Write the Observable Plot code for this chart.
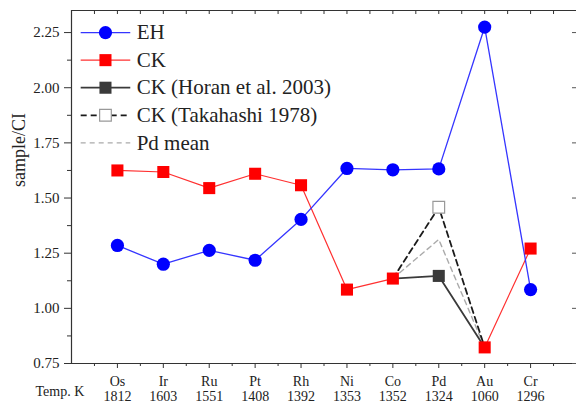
<!DOCTYPE html>
<html><head><meta charset="utf-8">
<script src="https://cdn.jsdelivr.net/npm/d3@7"></script>
<script src="https://cdn.jsdelivr.net/npm/@observablehq/plot@0.6"></script>
<style>
body{margin:0;background:#fff}
svg, svg text, svg g{font-family:"Liberation Serif","Times New Roman",serif !important}
</style>
</head><body><div id="chart"></div>
<script>
// ---- data ----
const elements = ["Os","Ir","Ru","Pt","Rh","Ni","Co","Pd","Au","Cr"];
const temps = [1812,1603,1551,1408,1392,1353,1352,1324,1060,1296];
const ehValues = [1.285,1.200,1.263,1.218,1.403,1.634,1.628,1.632,2.275,1.085];
const ckValues = [1.625,1.618,1.545,1.610,1.558,1.085,1.135,null,0.823,1.271];
const pdElements = ["Co","Pd","Au"];
const horanValues = [1.135,1.147,0.823];
const takahashiValues = [1.135,1.458,0.823];
const pdMeanValues = [1.135,1.312,0.823];
const yTicks = [0.75,1.00,1.25,1.50,1.75,2.00,2.25];
const legendLabels = ["EH","CK","CK (Horan et al. 2003)","CK (Takahashi 1978)","Pd mean"];

// ---- tables ----
const pos = e => elements.indexOf(e) + 1;
const ehData = elements.map((e,i)=>({x:pos(e), y:ehValues[i]}));
const ckData = elements.map((e,i)=>({x:pos(e), y:ckValues[i]}));
const horanData = pdElements.map((e,i)=>({x:pos(e), y:horanValues[i]}));
const takaData = pdElements.map((e,i)=>({x:pos(e), y:takahashiValues[i]}));
const meanData = pdElements.map((e,i)=>({x:pos(e), y:pdMeanValues[i]}));
const xTicks = elements.map(pos);
const xMinor = d3.range(0.5, 11, 1);
const topTicks = d3.range(0.5, 11, 0.5);
const yMinor = yTicks.slice(0,-1).map(v=>v+0.125);

const serif = "Liberation Serif";
const blue = "#0000ff", red = "#ff0000", dark = "#3a3a3a";
const legendRows = legendLabels.map((label,i)=>({label, y: 2.25 - i*0.125, i}));
const leg = {x1:0.2, x2:1.28, xm:0.74, xt:1.42};
const styles = [
  {stroke:"#3535ff", width:1.3, dash:null},
  {stroke:"#ff3030", width:1.2, dash:null},
  {stroke:dark, width:1.8, dash:null},
  {stroke:"#1a1a1a", width:1.8, dash:"6,4"},
  {stroke:"#aaaaaa", width:1.4, dash:"5,4"}
];

const yTop = 2.35, yBottom = 0.75;

const legendLine = (i) => Plot.link(legendRows.filter(d=>d.i===i), {
  x1: () => leg.x1, x2: () => leg.x2, y1: "y", y2: "y",
  stroke: styles[i].stroke, strokeWidth: styles[i].width,
  strokeDasharray: styles[i].dash || undefined});

const chart = Plot.plot({
  width: 576, height: 404,
  marginLeft: 71, marginRight: 0, marginTop: 10, marginBottom: 41,
  x: {domain: [0, 11], axis: null},
  y: {domain: [yBottom, yTop], axis: null},
  style: {background: "#fff", color: "#222", fontFamily: serif},
  marks: [
    // frame lines
    Plot.ruleY([yBottom, yTop], {stroke: "#333", strokeWidth: 1.2}),
    Plot.ruleX([0], {stroke: "#333", strokeWidth: 1.2}),
    // axes
    Plot.axisY(yTicks, {tickSize: 7, tickPadding: 5, fontSize: 15, fontFamily: serif, tickFormat: d3.format(".2f"), label: null, stroke: "#333"}),
    Plot.ruleY(yMinor, {x1: 0, x2: 0, insetLeft: -4, stroke: "#333"}),
    Plot.ruleY(yTicks, {x1: 11, x2: 11, insetLeft: -4, stroke: "#555"}),
    Plot.axisX(xTicks, {tickSize: 5, tickPadding: 7, fontSize: 14, fontFamily: serif, lineHeight: 1.05,
      tickFormat: d => elements[d-1] + "\n" + temps[d-1], label: null, stroke: "#333"}),
    Plot.ruleX(xMinor, {y1: yBottom, y2: yBottom, insetBottom: -3, stroke: "#333"}),
    Plot.ruleX(topTicks, {y1: yTop, y2: yTop, insetBottom: -4, stroke: "#333"}),
    Plot.text(["sample/CI"], {frameAnchor: "left", dx: -52, rotate: -90, fontSize: 18, fontFamily: serif, fill: "#222"}),
    Plot.text(["Temp. K"], {frameAnchor: "bottom-left", dx: -36, dy: 32, fontSize: 14, fontFamily: serif, fill: "#222"}),
    // data lines
    Plot.line(meanData, {x: "x", y: "y", stroke: styles[4].stroke, strokeWidth: styles[4].width, strokeDasharray: styles[4].dash}),
    Plot.line(takaData, {x: "x", y: "y", stroke: styles[3].stroke, strokeWidth: styles[3].width, strokeDasharray: styles[3].dash}),
    Plot.line(horanData, {x: "x", y: "y", stroke: styles[2].stroke, strokeWidth: styles[2].width}),
    Plot.line(ckData, {x: "x", y: "y", stroke: styles[1].stroke, strokeWidth: styles[1].width}),
    Plot.line(ehData, {x: "x", y: "y", stroke: styles[0].stroke, strokeWidth: styles[0].width}),
    // data points
    Plot.dot(takaData.filter(d=>d.x===pos("Pd")), {x: "x", y: "y", symbol: "square", r: 6.6, fill: "#fff", stroke: "#999", strokeWidth: 1.2}),
    Plot.dot(horanData.filter(d=>d.x===pos("Pd")), {x: "x", y: "y", symbol: "square", r: 6.8, fill: dark}),
    Plot.dot(ckData.filter(d=>d.y!=null), {x: "x", y: "y", symbol: "square", r: 6.8, fill: red}),
    Plot.dot(ehData, {x: "x", y: "y", r: 6.6, fill: blue}),
    // legend
    legendLine(0), legendLine(1), legendLine(2), legendLine(3), legendLine(4),
    Plot.dot(legendRows.filter(d=>d.i===0), {x: () => leg.xm, y: "y", r: 6.6, fill: blue}),
    Plot.dot(legendRows.filter(d=>d.i===1), {x: () => leg.xm, y: "y", symbol: "square", r: 6.8, fill: red}),
    Plot.dot(legendRows.filter(d=>d.i===2), {x: () => leg.xm, y: "y", symbol: "square", r: 6.8, fill: dark}),
    Plot.dot(legendRows.filter(d=>d.i===3), {x: () => leg.xm, y: "y", symbol: "square", r: 6.6, fill: "#fff", stroke: "#999", strokeWidth: 1.2}),
    Plot.text(legendRows, {x: () => leg.xt, y: "y", text: "label", textAnchor: "start", fontSize: 21, fontFamily: serif, fill: "#222"})
  ]
});
document.getElementById("chart").append(chart);
</script>
</body></html>
